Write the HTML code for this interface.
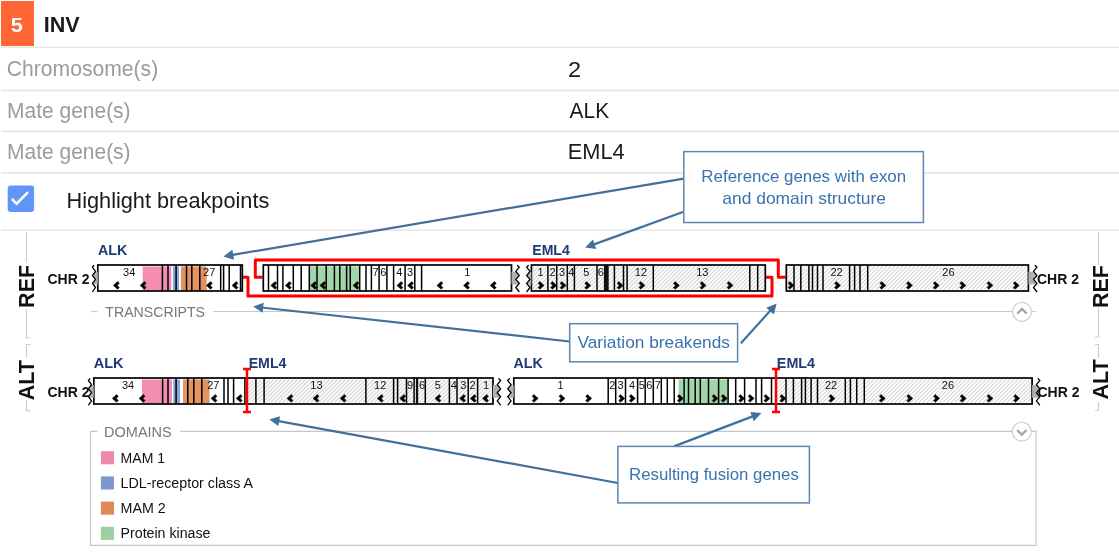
<!DOCTYPE html><html><head><meta charset="utf-8"><style>
html,body{margin:0;padding:0;background:#fff;width:1119px;height:553px;overflow:hidden;}
svg{position:absolute;left:0;top:0;will-change:transform;font-family:"Liberation Sans", sans-serif;}
</style></head><body>
<svg width="1119" height="553" viewBox="0 0 1119 553">
<defs><pattern id="hatch" patternUnits="userSpaceOnUse" width="2.83" height="2.83" patternTransform="rotate(45)"><rect width="2.83" height="2.83" fill="#fff"/><rect x="0" y="0" width="1.0" height="2.83" fill="#d0d0d0"/></pattern></defs>
<rect x="1" y="1" width="33" height="45" fill="#FF6633"/>
<text x="10.65" y="31.60" font-size="20.90" font-weight="bold" textLength="12.12" lengthAdjust="spacingAndGlyphs" fill="#fff">5</text>
<text x="43.80" y="31.60" font-size="22.20" font-weight="bold" textLength="35.95" lengthAdjust="spacingAndGlyphs" fill="#1a1a1a">INV</text>
<line x1="1" y1="47.3" x2="1119" y2="47.3" stroke="#e6e6e6" stroke-width="1.6"/>
<line x1="1" y1="90.4" x2="1119" y2="90.4" stroke="#e6e6e6" stroke-width="1.6"/>
<line x1="1" y1="131.4" x2="1119" y2="131.4" stroke="#e6e6e6" stroke-width="1.6"/>
<line x1="1" y1="172.9" x2="1119" y2="172.9" stroke="#e6e6e6" stroke-width="1.6"/>
<line x1="1" y1="230.2" x2="1119" y2="230.2" stroke="#e6e6e6" stroke-width="1.6"/>
<text x="6.84" y="76.30" font-size="22.40" textLength="151.39" lengthAdjust="spacingAndGlyphs" fill="#9b9b9b">Chromosome(s)</text>
<text x="7.02" y="117.80" font-size="22.40" textLength="123.57" lengthAdjust="spacingAndGlyphs" fill="#9b9b9b">Mate gene(s)</text>
<text x="7.02" y="158.90" font-size="22.40" textLength="123.57" lengthAdjust="spacingAndGlyphs" fill="#9b9b9b">Mate gene(s)</text>
<text x="568.12" y="76.50" font-size="21.50" textLength="13.08" lengthAdjust="spacingAndGlyphs" fill="#1a1a1a">2</text>
<text x="569.60" y="117.50" font-size="22.00" textLength="39.51" lengthAdjust="spacingAndGlyphs" fill="#1a1a1a">ALK</text>
<text x="567.76" y="158.50" font-size="22.00" textLength="56.95" lengthAdjust="spacingAndGlyphs" fill="#1a1a1a">EML4</text>
<rect x="7.7" y="185.4" width="26.4" height="26.7" rx="3" fill="#6196F8"/>
<polyline points="11.9,199 16.6,203.7 28,192.2" fill="none" stroke="#fff" stroke-width="2.5"/>
<text x="66.46" y="208.00" font-size="21.90" textLength="202.88" lengthAdjust="spacingAndGlyphs" fill="#1a1a1a">Highlight breakpoints</text>
<path d="M26.5,232 V262.6 M26.5,309 V338 H30.5" fill="none" stroke="#cfcfcf" stroke-width="1.2"/>
<path d="M30.5,344.5 H26.5 V357.5 M26.5,400 V410.7 H30.5" fill="none" stroke="#cfcfcf" stroke-width="1.2"/>
<path d="M1098.5,232 V265 M1098.5,307 V337 H1095" fill="none" stroke="#cfcfcf" stroke-width="1.2"/>
<path d="M1095,344.5 H1098.5 V358 M1098.5,402 V410.5 H1095" fill="none" stroke="#cfcfcf" stroke-width="1.2"/>
<text transform="translate(34.4,286.4) rotate(-90)" text-anchor="middle" font-size="21.5" font-weight="bold" fill="#111">REF</text>
<text transform="translate(34.4,380.2) rotate(-90)" text-anchor="middle" font-size="21.5" font-weight="bold" fill="#111">ALT</text>
<text transform="translate(1107.7,286.5) rotate(-90)" text-anchor="middle" font-size="21.5" font-weight="bold" fill="#111">REF</text>
<text transform="translate(1107.5,379.5) rotate(-90)" text-anchor="middle" font-size="21.5" font-weight="bold" fill="#111">ALT</text>
<text x="47.5" y="283.5" font-size="14" font-weight="bold" fill="#111">CHR 2</text>
<text x="1037" y="284.4" font-size="14" font-weight="bold" fill="#111">CHR 2</text>
<text x="47.5" y="396.6" font-size="14" font-weight="bold" fill="#111">CHR 2</text>
<text x="1037.5" y="397.2" font-size="14" font-weight="bold" fill="#111">CHR 2</text>
<text x="97.94" y="254.80" font-size="14.20" font-weight="bold" textLength="29.40" lengthAdjust="spacingAndGlyphs" fill="#1F3A78">ALK</text>
<text x="532.29" y="254.50" font-size="14.20" font-weight="bold" textLength="37.51" lengthAdjust="spacingAndGlyphs" fill="#1F3A78">EML4</text>
<text x="93.74" y="367.70" font-size="14.20" font-weight="bold" textLength="29.91" lengthAdjust="spacingAndGlyphs" fill="#1F3A78">ALK</text>
<text x="248.68" y="367.70" font-size="14.20" font-weight="bold" textLength="37.72" lengthAdjust="spacingAndGlyphs" fill="#1F3A78">EML4</text>
<text x="513.44" y="367.70" font-size="14.20" font-weight="bold" textLength="29.30" lengthAdjust="spacingAndGlyphs" fill="#1F3A78">ALK</text>
<text x="776.87" y="367.70" font-size="14.20" font-weight="bold" textLength="38.23" lengthAdjust="spacingAndGlyphs" fill="#1F3A78">EML4</text>
<path d="M243,277.2 H248 V296 H772 V277.2 H765" fill="none" stroke="#FF0000" stroke-width="3" stroke-linejoin="round"/>
<path d="M262.5,277.2 H255.3 V260 H778.3 V277.2 H785.5" fill="none" stroke="#FF0000" stroke-width="3" stroke-linejoin="round"/>
<rect x="97.8" y="265.0" width="144.5" height="26.0" fill="#fff"/>
<rect x="142.7" y="266.5" width="28.6" height="24.0" fill="#F38EB1"/>
<rect x="172.9" y="266.5" width="6.1" height="24.0" fill="#8AA5DB"/>
<rect x="180.9" y="266.5" width="25.8" height="24.0" fill="#E3935F"/>
<line x1="162.4" y1="265.0" x2="162.4" y2="291.0" stroke="#000" stroke-width="1.5"/>
<line x1="168.0" y1="265.0" x2="168.0" y2="291.0" stroke="#000" stroke-width="1.5"/>
<line x1="176.1" y1="265.0" x2="176.1" y2="291.0" stroke="#000" stroke-width="1.5"/>
<line x1="186.5" y1="265.0" x2="186.5" y2="291.0" stroke="#000" stroke-width="1.5"/>
<line x1="191.8" y1="265.0" x2="191.8" y2="291.0" stroke="#000" stroke-width="1.5"/>
<line x1="199.8" y1="265.0" x2="199.8" y2="291.0" stroke="#000" stroke-width="1.5"/>
<line x1="220.7" y1="265.0" x2="220.7" y2="291.0" stroke="#000" stroke-width="1.5"/>
<line x1="223.6" y1="265.0" x2="223.6" y2="291.0" stroke="#000" stroke-width="1.5"/>
<line x1="229.2" y1="265.0" x2="229.2" y2="291.0" stroke="#000" stroke-width="1.5"/>
<line x1="240.5" y1="265.0" x2="240.5" y2="291.0" stroke="#000" stroke-width="1.5"/>
<rect x="97.8" y="265.0" width="144.5" height="26.0" fill="none" stroke="#000" stroke-width="1.7"/>
<text x="129.2" y="275.9" text-anchor="middle" font-size="11" fill="#111">34</text>
<text x="209.2" y="275.9" text-anchor="middle" font-size="11" fill="#111">27</text>
<polygon points="119.30,283.20 117.60,281.50 113.30,285.40 117.60,289.30 119.30,287.60 117.30,285.40" fill="#000" stroke="#000" stroke-width="0.5" stroke-linejoin="round"/>
<polygon points="146.10,283.20 144.40,281.50 140.10,285.40 144.40,289.30 146.10,287.60 144.10,285.40" fill="#000" stroke="#000" stroke-width="0.5" stroke-linejoin="round"/>
<polygon points="212.30,283.20 210.60,281.50 206.30,285.40 210.60,289.30 212.30,287.60 210.30,285.40" fill="#000" stroke="#000" stroke-width="0.5" stroke-linejoin="round"/>
<polygon points="238.00,283.20 236.30,281.50 232.00,285.40 236.30,289.30 238.00,287.60 236.00,285.40" fill="#000" stroke="#000" stroke-width="0.5" stroke-linejoin="round"/>
<rect x="263.3" y="265.0" width="248.2" height="26.0" fill="#fff"/>
<rect x="309.5" y="266.5" width="49.3" height="24.0" fill="#A1D5AA"/>
<line x1="268.5" y1="265.0" x2="268.5" y2="291.0" stroke="#000" stroke-width="1.5"/>
<line x1="277.5" y1="265.0" x2="277.5" y2="291.0" stroke="#000" stroke-width="1.5"/>
<line x1="282.9" y1="265.0" x2="282.9" y2="291.0" stroke="#000" stroke-width="1.5"/>
<line x1="293.3" y1="265.0" x2="293.3" y2="291.0" stroke="#000" stroke-width="1.5"/>
<line x1="301.2" y1="265.0" x2="301.2" y2="291.0" stroke="#000" stroke-width="1.5"/>
<line x1="309.3" y1="265.0" x2="309.3" y2="291.0" stroke="#000" stroke-width="1.5"/>
<line x1="317.0" y1="265.0" x2="317.0" y2="291.0" stroke="#000" stroke-width="1.5"/>
<line x1="326.2" y1="265.0" x2="326.2" y2="291.0" stroke="#000" stroke-width="1.5"/>
<line x1="334.4" y1="265.0" x2="334.4" y2="291.0" stroke="#000" stroke-width="1.5"/>
<line x1="339.8" y1="265.0" x2="339.8" y2="291.0" stroke="#000" stroke-width="1.5"/>
<line x1="346.6" y1="265.0" x2="346.6" y2="291.0" stroke="#000" stroke-width="1.5"/>
<line x1="350.2" y1="265.0" x2="350.2" y2="291.0" stroke="#000" stroke-width="1.5"/>
<line x1="359.7" y1="265.0" x2="359.7" y2="291.0" stroke="#000" stroke-width="1.5"/>
<line x1="366.0" y1="265.0" x2="366.0" y2="291.0" stroke="#000" stroke-width="1.5"/>
<line x1="371.4" y1="265.0" x2="371.4" y2="291.0" stroke="#000" stroke-width="1.5"/>
<line x1="379.1" y1="265.0" x2="379.1" y2="291.0" stroke="#000" stroke-width="1.5"/>
<line x1="386.9" y1="265.0" x2="386.9" y2="291.0" stroke="#000" stroke-width="1.5"/>
<line x1="393.6" y1="265.0" x2="393.6" y2="291.0" stroke="#000" stroke-width="1.5"/>
<line x1="405.1" y1="265.0" x2="405.1" y2="291.0" stroke="#000" stroke-width="1.5"/>
<line x1="414.8" y1="265.0" x2="414.8" y2="291.0" stroke="#000" stroke-width="1.5"/>
<line x1="421.6" y1="265.0" x2="421.6" y2="291.0" stroke="#000" stroke-width="1.5"/>
<rect x="263.3" y="265.0" width="248.2" height="26.0" fill="none" stroke="#000" stroke-width="1.7"/>
<text x="375.5" y="275.9" text-anchor="middle" font-size="11" fill="#111">7</text>
<text x="383.2" y="275.9" text-anchor="middle" font-size="11" fill="#111">6</text>
<text x="399.2" y="275.9" text-anchor="middle" font-size="11" fill="#111">4</text>
<text x="410.0" y="275.9" text-anchor="middle" font-size="11" fill="#111">3</text>
<text x="467.2" y="275.9" text-anchor="middle" font-size="11" fill="#111">1</text>
<polygon points="276.80,283.20 275.10,281.50 270.80,285.40 275.10,289.30 276.80,287.60 274.80,285.40" fill="#000" stroke="#000" stroke-width="0.5" stroke-linejoin="round"/>
<polygon points="291.30,283.20 289.60,281.50 285.30,285.40 289.60,289.30 291.30,287.60 289.30,285.40" fill="#000" stroke="#000" stroke-width="0.5" stroke-linejoin="round"/>
<polygon points="316.70,283.20 315.00,281.50 310.70,285.40 315.00,289.30 316.70,287.60 314.70,285.40" fill="#000" stroke="#000" stroke-width="0.5" stroke-linejoin="round"/>
<polygon points="325.80,283.20 324.10,281.50 319.80,285.40 324.10,289.30 325.80,287.60 323.80,285.40" fill="#000" stroke="#000" stroke-width="0.5" stroke-linejoin="round"/>
<polygon points="359.00,283.20 357.30,281.50 353.00,285.40 357.30,289.30 359.00,287.60 357.00,285.40" fill="#000" stroke="#000" stroke-width="0.5" stroke-linejoin="round"/>
<polygon points="402.90,283.20 401.20,281.50 396.90,285.40 401.20,289.30 402.90,287.60 400.90,285.40" fill="#000" stroke="#000" stroke-width="0.5" stroke-linejoin="round"/>
<polygon points="413.50,283.20 411.80,281.50 407.50,285.40 411.80,289.30 413.50,287.60 411.50,285.40" fill="#000" stroke="#000" stroke-width="0.5" stroke-linejoin="round"/>
<polygon points="442.90,283.20 441.20,281.50 436.90,285.40 441.20,289.30 442.90,287.60 440.90,285.40" fill="#000" stroke="#000" stroke-width="0.5" stroke-linejoin="round"/>
<polygon points="469.50,283.20 467.80,281.50 463.50,285.40 467.80,289.30 469.50,287.60 467.50,285.40" fill="#000" stroke="#000" stroke-width="0.5" stroke-linejoin="round"/>
<polygon points="496.20,283.20 494.50,281.50 490.20,285.40 494.50,289.30 496.20,287.60 494.20,285.40" fill="#000" stroke="#000" stroke-width="0.5" stroke-linejoin="round"/>
<rect x="531.4" y="265.0" width="233.9" height="26.0" fill="#fff"/>
<rect x="531.4" y="266.5" width="233.9" height="23.0" fill="url(#hatch)"/>
<line x1="547.9" y1="265.0" x2="547.9" y2="291.0" stroke="#000" stroke-width="1.5"/>
<line x1="556.7" y1="265.0" x2="556.7" y2="291.0" stroke="#000" stroke-width="1.5"/>
<line x1="567.3" y1="265.0" x2="567.3" y2="291.0" stroke="#000" stroke-width="1.5"/>
<line x1="574.4" y1="265.0" x2="574.4" y2="291.0" stroke="#000" stroke-width="1.5"/>
<line x1="597.0" y1="265.0" x2="597.0" y2="291.0" stroke="#000" stroke-width="1.5"/>
<line x1="614.4" y1="265.0" x2="614.4" y2="291.0" stroke="#000" stroke-width="1.5"/>
<line x1="623.5" y1="265.0" x2="623.5" y2="291.0" stroke="#000" stroke-width="1.5"/>
<line x1="627.1" y1="265.0" x2="627.1" y2="291.0" stroke="#000" stroke-width="1.5"/>
<line x1="653.3" y1="265.0" x2="653.3" y2="291.0" stroke="#000" stroke-width="1.5"/>
<line x1="749.8" y1="265.0" x2="749.8" y2="291.0" stroke="#000" stroke-width="1.5"/>
<line x1="757.7" y1="265.0" x2="757.7" y2="291.0" stroke="#000" stroke-width="1.5"/>
<rect x="603.9" y="265.0" width="4.8" height="26.0" fill="#111"/>
<rect x="531.4" y="265.0" width="233.9" height="26.0" fill="none" stroke="#000" stroke-width="1.7"/>
<text x="540.5" y="275.9" text-anchor="middle" font-size="11" fill="#111">1</text>
<text x="552.6" y="275.9" text-anchor="middle" font-size="11" fill="#111">2</text>
<text x="562.0" y="275.9" text-anchor="middle" font-size="11" fill="#111">3</text>
<text x="571.3" y="275.9" text-anchor="middle" font-size="11" fill="#111">4</text>
<text x="586.4" y="275.9" text-anchor="middle" font-size="11" fill="#111">5</text>
<text x="600.7" y="275.9" text-anchor="middle" font-size="11" fill="#111">6</text>
<text x="640.9" y="275.9" text-anchor="middle" font-size="11" fill="#111">12</text>
<text x="702.3" y="275.9" text-anchor="middle" font-size="11" fill="#111">13</text>
<polygon points="538.10,283.20 539.80,281.50 544.10,285.40 539.80,289.30 538.10,287.60 540.10,285.40" fill="#000" stroke="#000" stroke-width="0.5" stroke-linejoin="round"/>
<polygon points="550.70,283.20 552.40,281.50 556.70,285.40 552.40,289.30 550.70,287.60 552.70,285.40" fill="#000" stroke="#000" stroke-width="0.5" stroke-linejoin="round"/>
<polygon points="560.10,283.20 561.80,281.50 566.10,285.40 561.80,289.30 560.10,287.60 562.10,285.40" fill="#000" stroke="#000" stroke-width="0.5" stroke-linejoin="round"/>
<polygon points="584.80,283.20 586.50,281.50 590.80,285.40 586.50,289.30 584.80,287.60 586.80,285.40" fill="#000" stroke="#000" stroke-width="0.5" stroke-linejoin="round"/>
<polygon points="617.10,283.20 618.80,281.50 623.10,285.40 618.80,289.30 617.10,287.60 619.10,285.40" fill="#000" stroke="#000" stroke-width="0.5" stroke-linejoin="round"/>
<polygon points="639.00,283.20 640.70,281.50 645.00,285.40 640.70,289.30 639.00,287.60 641.00,285.40" fill="#000" stroke="#000" stroke-width="0.5" stroke-linejoin="round"/>
<polygon points="673.40,283.20 675.10,281.50 679.40,285.40 675.10,289.30 673.40,287.60 675.40,285.40" fill="#000" stroke="#000" stroke-width="0.5" stroke-linejoin="round"/>
<polygon points="700.10,283.20 701.80,281.50 706.10,285.40 701.80,289.30 700.10,287.60 702.10,285.40" fill="#000" stroke="#000" stroke-width="0.5" stroke-linejoin="round"/>
<polygon points="727.10,283.20 728.80,281.50 733.10,285.40 728.80,289.30 727.10,287.60 729.10,285.40" fill="#000" stroke="#000" stroke-width="0.5" stroke-linejoin="round"/>
<rect x="786.3" y="265.0" width="242.1" height="26.0" fill="#fff"/>
<rect x="786.3" y="266.5" width="242.1" height="23.0" fill="url(#hatch)"/>
<line x1="794.0" y1="265.0" x2="794.0" y2="291.0" stroke="#000" stroke-width="1.5"/>
<line x1="800.8" y1="265.0" x2="800.8" y2="291.0" stroke="#000" stroke-width="1.5"/>
<line x1="808.9" y1="265.0" x2="808.9" y2="291.0" stroke="#000" stroke-width="1.5"/>
<line x1="812.5" y1="265.0" x2="812.5" y2="291.0" stroke="#000" stroke-width="1.5"/>
<line x1="817.5" y1="265.0" x2="817.5" y2="291.0" stroke="#000" stroke-width="1.5"/>
<line x1="823.0" y1="265.0" x2="823.0" y2="291.0" stroke="#000" stroke-width="1.5"/>
<line x1="849.6" y1="265.0" x2="849.6" y2="291.0" stroke="#000" stroke-width="1.5"/>
<line x1="854.6" y1="265.0" x2="854.6" y2="291.0" stroke="#000" stroke-width="1.5"/>
<line x1="860.0" y1="265.0" x2="860.0" y2="291.0" stroke="#000" stroke-width="1.5"/>
<line x1="867.7" y1="265.0" x2="867.7" y2="291.0" stroke="#000" stroke-width="1.5"/>
<rect x="786.3" y="265.0" width="242.1" height="26.0" fill="none" stroke="#000" stroke-width="1.7"/>
<text x="836.5" y="275.9" text-anchor="middle" font-size="11" fill="#111">22</text>
<text x="948.4" y="275.9" text-anchor="middle" font-size="11" fill="#111">26</text>
<polygon points="788.10,283.20 789.80,281.50 794.10,285.40 789.80,289.30 788.10,287.60 790.10,285.40" fill="#000" stroke="#000" stroke-width="0.5" stroke-linejoin="round"/>
<polygon points="834.60,283.20 836.30,281.50 840.60,285.40 836.30,289.30 834.60,287.60 836.60,285.40" fill="#000" stroke="#000" stroke-width="0.5" stroke-linejoin="round"/>
<polygon points="879.90,283.20 881.60,281.50 885.90,285.40 881.60,289.30 879.90,287.60 881.90,285.40" fill="#000" stroke="#000" stroke-width="0.5" stroke-linejoin="round"/>
<polygon points="906.50,283.20 908.20,281.50 912.50,285.40 908.20,289.30 906.50,287.60 908.50,285.40" fill="#000" stroke="#000" stroke-width="0.5" stroke-linejoin="round"/>
<polygon points="933.20,283.20 934.90,281.50 939.20,285.40 934.90,289.30 933.20,287.60 935.20,285.40" fill="#000" stroke="#000" stroke-width="0.5" stroke-linejoin="round"/>
<polygon points="959.90,283.20 961.60,281.50 965.90,285.40 961.60,289.30 959.90,287.60 961.90,285.40" fill="#000" stroke="#000" stroke-width="0.5" stroke-linejoin="round"/>
<polygon points="987.00,283.20 988.70,281.50 993.00,285.40 988.70,289.30 987.00,287.60 989.00,285.40" fill="#000" stroke="#000" stroke-width="0.5" stroke-linejoin="round"/>
<polygon points="1013.20,283.20 1014.90,281.50 1019.20,285.40 1014.90,289.30 1013.20,287.60 1015.20,285.40" fill="#000" stroke="#000" stroke-width="0.5" stroke-linejoin="round"/>
<rect x="93.8" y="378.0" width="399.2" height="26.0" fill="#fff"/>
<rect x="245.5" y="379.5" width="247.5" height="23.0" fill="url(#hatch)"/>
<rect x="142.0" y="379.5" width="30.0" height="24.0" fill="#F38EB1"/>
<rect x="173.3" y="379.5" width="6.8" height="24.0" fill="#8AA5DB"/>
<rect x="183.0" y="379.5" width="26.5" height="24.0" fill="#E3935F"/>
<line x1="162.6" y1="378.0" x2="162.6" y2="404.0" stroke="#000" stroke-width="1.5"/>
<line x1="168.0" y1="378.0" x2="168.0" y2="404.0" stroke="#000" stroke-width="1.5"/>
<line x1="176.1" y1="378.0" x2="176.1" y2="404.0" stroke="#000" stroke-width="1.5"/>
<line x1="187.8" y1="378.0" x2="187.8" y2="404.0" stroke="#000" stroke-width="1.5"/>
<line x1="193.8" y1="378.0" x2="193.8" y2="404.0" stroke="#000" stroke-width="1.5"/>
<line x1="201.8" y1="378.0" x2="201.8" y2="404.0" stroke="#000" stroke-width="1.5"/>
<line x1="224.0" y1="378.0" x2="224.0" y2="404.0" stroke="#000" stroke-width="1.5"/>
<line x1="228.0" y1="378.0" x2="228.0" y2="404.0" stroke="#000" stroke-width="1.5"/>
<line x1="233.6" y1="378.0" x2="233.6" y2="404.0" stroke="#000" stroke-width="1.5"/>
<line x1="244.9" y1="378.0" x2="244.9" y2="404.0" stroke="#000" stroke-width="1.5"/>
<line x1="255.9" y1="378.0" x2="255.9" y2="404.0" stroke="#000" stroke-width="1.5"/>
<line x1="264.1" y1="378.0" x2="264.1" y2="404.0" stroke="#000" stroke-width="1.5"/>
<line x1="365.9" y1="378.0" x2="365.9" y2="404.0" stroke="#000" stroke-width="1.5"/>
<line x1="393.6" y1="378.0" x2="393.6" y2="404.0" stroke="#000" stroke-width="1.5"/>
<line x1="397.6" y1="378.0" x2="397.6" y2="404.0" stroke="#000" stroke-width="1.5"/>
<line x1="406.5" y1="378.0" x2="406.5" y2="404.0" stroke="#000" stroke-width="1.5"/>
<line x1="414.1" y1="378.0" x2="414.1" y2="404.0" stroke="#000" stroke-width="1.5"/>
<line x1="425.3" y1="378.0" x2="425.3" y2="404.0" stroke="#000" stroke-width="1.5"/>
<line x1="449.4" y1="378.0" x2="449.4" y2="404.0" stroke="#000" stroke-width="1.5"/>
<line x1="457.0" y1="378.0" x2="457.0" y2="404.0" stroke="#000" stroke-width="1.5"/>
<line x1="468.2" y1="378.0" x2="468.2" y2="404.0" stroke="#000" stroke-width="1.5"/>
<line x1="477.6" y1="378.0" x2="477.6" y2="404.0" stroke="#000" stroke-width="1.5"/>
<rect x="415.9" y="378.0" width="2.3" height="26.0" fill="#111"/>
<rect x="93.8" y="378.0" width="399.2" height="26.0" fill="none" stroke="#000" stroke-width="1.7"/>
<text x="128.1" y="388.9" text-anchor="middle" font-size="11" fill="#111">34</text>
<text x="213.3" y="388.9" text-anchor="middle" font-size="11" fill="#111">27</text>
<text x="316.4" y="388.9" text-anchor="middle" font-size="11" fill="#111">13</text>
<text x="380.2" y="388.9" text-anchor="middle" font-size="11" fill="#111">12</text>
<text x="410.0" y="388.9" text-anchor="middle" font-size="11" fill="#111">9</text>
<text x="422.0" y="388.9" text-anchor="middle" font-size="11" fill="#111">6</text>
<text x="437.9" y="388.9" text-anchor="middle" font-size="11" fill="#111">5</text>
<text x="453.8" y="388.9" text-anchor="middle" font-size="11" fill="#111">4</text>
<text x="463.2" y="388.9" text-anchor="middle" font-size="11" fill="#111">3</text>
<text x="472.6" y="388.9" text-anchor="middle" font-size="11" fill="#111">2</text>
<text x="486.0" y="388.9" text-anchor="middle" font-size="11" fill="#111">1</text>
<polygon points="118.30,396.20 116.60,394.50 112.30,398.40 116.60,402.30 118.30,400.60 116.30,398.40" fill="#000" stroke="#000" stroke-width="0.5" stroke-linejoin="round"/>
<polygon points="145.00,396.20 143.30,394.50 139.00,398.40 143.30,402.30 145.00,400.60 143.00,398.40" fill="#000" stroke="#000" stroke-width="0.5" stroke-linejoin="round"/>
<polygon points="217.00,396.20 215.30,394.50 211.00,398.40 215.30,402.30 217.00,400.60 215.00,398.40" fill="#000" stroke="#000" stroke-width="0.5" stroke-linejoin="round"/>
<polygon points="242.20,396.20 240.50,394.50 236.20,398.40 240.50,402.30 242.20,400.60 240.20,398.40" fill="#000" stroke="#000" stroke-width="0.5" stroke-linejoin="round"/>
<polygon points="293.00,396.20 291.30,394.50 287.00,398.40 291.30,402.30 293.00,400.60 291.00,398.40" fill="#000" stroke="#000" stroke-width="0.5" stroke-linejoin="round"/>
<polygon points="319.00,396.20 317.30,394.50 313.00,398.40 317.30,402.30 319.00,400.60 317.00,398.40" fill="#000" stroke="#000" stroke-width="0.5" stroke-linejoin="round"/>
<polygon points="346.10,396.20 344.40,394.50 340.10,398.40 344.40,402.30 346.10,400.60 344.10,398.40" fill="#000" stroke="#000" stroke-width="0.5" stroke-linejoin="round"/>
<polygon points="383.30,396.20 381.60,394.50 377.30,398.40 381.60,402.30 383.30,400.60 381.30,398.40" fill="#000" stroke="#000" stroke-width="0.5" stroke-linejoin="round"/>
<polygon points="405.70,396.20 404.00,394.50 399.70,398.40 404.00,402.30 405.70,400.60 403.70,398.40" fill="#000" stroke="#000" stroke-width="0.5" stroke-linejoin="round"/>
<polygon points="440.90,396.20 439.20,394.50 434.90,398.40 439.20,402.30 440.90,400.60 438.90,398.40" fill="#000" stroke="#000" stroke-width="0.5" stroke-linejoin="round"/>
<polygon points="465.60,396.20 463.90,394.50 459.60,398.40 463.90,402.30 465.60,400.60 463.60,398.40" fill="#000" stroke="#000" stroke-width="0.5" stroke-linejoin="round"/>
<polygon points="476.20,396.20 474.50,394.50 470.20,398.40 474.50,402.30 476.20,400.60 474.20,398.40" fill="#000" stroke="#000" stroke-width="0.5" stroke-linejoin="round"/>
<polygon points="488.50,396.20 486.80,394.50 482.50,398.40 486.80,402.30 488.50,400.60 486.50,398.40" fill="#000" stroke="#000" stroke-width="0.5" stroke-linejoin="round"/>
<rect x="513.8" y="378.0" width="518.3" height="26.0" fill="#fff"/>
<rect x="776.0" y="379.5" width="256.1" height="23.0" fill="url(#hatch)"/>
<rect x="678.6" y="379.5" width="49.4" height="24.0" fill="#A1D5AA"/>
<line x1="608.2" y1="378.0" x2="608.2" y2="404.0" stroke="#000" stroke-width="1.5"/>
<line x1="615.7" y1="378.0" x2="615.7" y2="404.0" stroke="#000" stroke-width="1.5"/>
<line x1="625.5" y1="378.0" x2="625.5" y2="404.0" stroke="#000" stroke-width="1.5"/>
<line x1="637.6" y1="378.0" x2="637.6" y2="404.0" stroke="#000" stroke-width="1.5"/>
<line x1="645.2" y1="378.0" x2="645.2" y2="404.0" stroke="#000" stroke-width="1.5"/>
<line x1="653.3" y1="378.0" x2="653.3" y2="404.0" stroke="#000" stroke-width="1.5"/>
<line x1="661.3" y1="378.0" x2="661.3" y2="404.0" stroke="#000" stroke-width="1.5"/>
<line x1="667.3" y1="378.0" x2="667.3" y2="404.0" stroke="#000" stroke-width="1.5"/>
<line x1="674.2" y1="378.0" x2="674.2" y2="404.0" stroke="#000" stroke-width="1.5"/>
<line x1="684.1" y1="378.0" x2="684.1" y2="404.0" stroke="#000" stroke-width="1.5"/>
<line x1="688.5" y1="378.0" x2="688.5" y2="404.0" stroke="#000" stroke-width="1.5"/>
<line x1="695.2" y1="378.0" x2="695.2" y2="404.0" stroke="#000" stroke-width="1.5"/>
<line x1="700.3" y1="378.0" x2="700.3" y2="404.0" stroke="#000" stroke-width="1.5"/>
<line x1="708.5" y1="378.0" x2="708.5" y2="404.0" stroke="#000" stroke-width="1.5"/>
<line x1="718.6" y1="378.0" x2="718.6" y2="404.0" stroke="#000" stroke-width="1.5"/>
<line x1="728.1" y1="378.0" x2="728.1" y2="404.0" stroke="#000" stroke-width="1.5"/>
<line x1="735.7" y1="378.0" x2="735.7" y2="404.0" stroke="#000" stroke-width="1.5"/>
<line x1="744.6" y1="378.0" x2="744.6" y2="404.0" stroke="#000" stroke-width="1.5"/>
<line x1="756.0" y1="378.0" x2="756.0" y2="404.0" stroke="#000" stroke-width="1.5"/>
<line x1="761.6" y1="378.0" x2="761.6" y2="404.0" stroke="#000" stroke-width="1.5"/>
<line x1="771.5" y1="378.0" x2="771.5" y2="404.0" stroke="#000" stroke-width="1.5"/>
<line x1="786.0" y1="378.0" x2="786.0" y2="404.0" stroke="#000" stroke-width="1.5"/>
<line x1="793.4" y1="378.0" x2="793.4" y2="404.0" stroke="#000" stroke-width="1.5"/>
<line x1="801.6" y1="378.0" x2="801.6" y2="404.0" stroke="#000" stroke-width="1.5"/>
<line x1="805.4" y1="378.0" x2="805.4" y2="404.0" stroke="#000" stroke-width="1.5"/>
<line x1="811.1" y1="378.0" x2="811.1" y2="404.0" stroke="#000" stroke-width="1.5"/>
<line x1="817.5" y1="378.0" x2="817.5" y2="404.0" stroke="#000" stroke-width="1.5"/>
<line x1="845.3" y1="378.0" x2="845.3" y2="404.0" stroke="#000" stroke-width="1.5"/>
<line x1="850.4" y1="378.0" x2="850.4" y2="404.0" stroke="#000" stroke-width="1.5"/>
<line x1="856.7" y1="378.0" x2="856.7" y2="404.0" stroke="#000" stroke-width="1.5"/>
<line x1="864.3" y1="378.0" x2="864.3" y2="404.0" stroke="#000" stroke-width="1.5"/>
<rect x="513.8" y="378.0" width="518.3" height="26.0" fill="none" stroke="#000" stroke-width="1.7"/>
<text x="560.5" y="388.9" text-anchor="middle" font-size="11" fill="#111">1</text>
<text x="612.4" y="388.9" text-anchor="middle" font-size="11" fill="#111">2</text>
<text x="620.5" y="388.9" text-anchor="middle" font-size="11" fill="#111">3</text>
<text x="632.0" y="388.9" text-anchor="middle" font-size="11" fill="#111">4</text>
<text x="641.8" y="388.9" text-anchor="middle" font-size="11" fill="#111">5</text>
<text x="649.4" y="388.9" text-anchor="middle" font-size="11" fill="#111">6</text>
<text x="657.7" y="388.9" text-anchor="middle" font-size="11" fill="#111">7</text>
<text x="831.1" y="388.9" text-anchor="middle" font-size="11" fill="#111">22</text>
<text x="947.9" y="388.9" text-anchor="middle" font-size="11" fill="#111">26</text>
<polygon points="532.20,396.20 533.90,394.50 538.20,398.40 533.90,402.30 532.20,400.60 534.20,398.40" fill="#000" stroke="#000" stroke-width="0.5" stroke-linejoin="round"/>
<polygon points="559.00,396.20 560.70,394.50 565.00,398.40 560.70,402.30 559.00,400.60 561.00,398.40" fill="#000" stroke="#000" stroke-width="0.5" stroke-linejoin="round"/>
<polygon points="585.70,396.20 587.40,394.50 591.70,398.40 587.40,402.30 585.70,400.60 587.70,398.40" fill="#000" stroke="#000" stroke-width="0.5" stroke-linejoin="round"/>
<polygon points="618.80,396.20 620.50,394.50 624.80,398.40 620.50,402.30 618.80,400.60 620.80,398.40" fill="#000" stroke="#000" stroke-width="0.5" stroke-linejoin="round"/>
<polygon points="629.30,396.20 631.00,394.50 635.30,398.40 631.00,402.30 629.30,400.60 631.30,398.40" fill="#000" stroke="#000" stroke-width="0.5" stroke-linejoin="round"/>
<polygon points="677.40,396.20 679.10,394.50 683.40,398.40 679.10,402.30 677.40,400.60 679.40,398.40" fill="#000" stroke="#000" stroke-width="0.5" stroke-linejoin="round"/>
<polygon points="712.10,396.20 713.80,394.50 718.10,398.40 713.80,402.30 712.10,400.60 714.10,398.40" fill="#000" stroke="#000" stroke-width="0.5" stroke-linejoin="round"/>
<polygon points="721.30,396.20 723.00,394.50 727.30,398.40 723.00,402.30 721.30,400.60 723.30,398.40" fill="#000" stroke="#000" stroke-width="0.5" stroke-linejoin="round"/>
<polygon points="738.70,396.20 740.40,394.50 744.70,398.40 740.40,402.30 738.70,400.60 740.70,398.40" fill="#000" stroke="#000" stroke-width="0.5" stroke-linejoin="round"/>
<polygon points="748.20,396.20 749.90,394.50 754.20,398.40 749.90,402.30 748.20,400.60 750.20,398.40" fill="#000" stroke="#000" stroke-width="0.5" stroke-linejoin="round"/>
<polygon points="764.00,396.20 765.70,394.50 770.00,398.40 765.70,402.30 764.00,400.60 766.00,398.40" fill="#000" stroke="#000" stroke-width="0.5" stroke-linejoin="round"/>
<polygon points="779.90,396.20 781.60,394.50 785.90,398.40 781.60,402.30 779.90,400.60 781.90,398.40" fill="#000" stroke="#000" stroke-width="0.5" stroke-linejoin="round"/>
<polygon points="829.00,396.20 830.70,394.50 835.00,398.40 830.70,402.30 829.00,400.60 831.00,398.40" fill="#000" stroke="#000" stroke-width="0.5" stroke-linejoin="round"/>
<polygon points="879.30,396.20 881.00,394.50 885.30,398.40 881.00,402.30 879.30,400.60 881.30,398.40" fill="#000" stroke="#000" stroke-width="0.5" stroke-linejoin="round"/>
<polygon points="906.80,396.20 908.50,394.50 912.80,398.40 908.50,402.30 906.80,400.60 908.80,398.40" fill="#000" stroke="#000" stroke-width="0.5" stroke-linejoin="round"/>
<polygon points="933.60,396.20 935.30,394.50 939.60,398.40 935.30,402.30 933.60,400.60 935.60,398.40" fill="#000" stroke="#000" stroke-width="0.5" stroke-linejoin="round"/>
<polygon points="960.20,396.20 961.90,394.50 966.20,398.40 961.90,402.30 960.20,400.60 962.20,398.40" fill="#000" stroke="#000" stroke-width="0.5" stroke-linejoin="round"/>
<polygon points="987.00,396.20 988.70,394.50 993.00,398.40 988.70,402.30 987.00,400.60 989.00,398.40" fill="#000" stroke="#000" stroke-width="0.5" stroke-linejoin="round"/>
<polygon points="1013.70,396.20 1015.40,394.50 1019.70,398.40 1015.40,402.30 1013.70,400.60 1015.70,398.40" fill="#000" stroke="#000" stroke-width="0.5" stroke-linejoin="round"/>
<path d="M247.0,369 V412 M243.0,369 H251.0 M243.0,412 H251.0" fill="none" stroke="#FF0000" stroke-width="2.5"/>
<path d="M776.0,369 V412 M772.0,369 H780.0 M772.0,412 H780.0" fill="none" stroke="#FF0000" stroke-width="2.5"/>
<polygon points="97.8,271.7 95.5,271.7 92.4,275.6 95.5,279.4 92.4,283.4 92.4,284.5 97.8,284.5" fill="#b0b0b0"/><polyline points="93.8,265.5 92.4,267.2 95.5,271.3 92.4,275.6 95.5,279.4 92.4,283.4 95.5,287.5 92.7,291.5" fill="none" stroke="#000" stroke-width="1.3" stroke-linejoin="round" stroke-linecap="round"/>
<polygon points="511.5,271.7 515.8,271.7 519.3,275.6 515.8,279.4 519.3,283.4 519.3,284.5 511.5,284.5" fill="#b0b0b0"/><polyline points="517.5,265.5 519.3,267.2 515.8,271.3 519.3,275.6 515.8,279.4 519.3,283.4 515.8,287.5 519.0,291.5" fill="none" stroke="#000" stroke-width="1.3" stroke-linejoin="round" stroke-linecap="round"/>
<polygon points="531.4,271.7 530.0,271.7 526.6,275.6 530.0,279.4 526.6,283.4 526.6,284.5 531.4,284.5" fill="#b0b0b0"/><polyline points="528.3,265.5 526.6,267.2 530.0,271.3 526.6,275.6 530.0,279.4 526.6,283.4 530.0,287.5 526.9,291.5" fill="none" stroke="#000" stroke-width="1.3" stroke-linejoin="round" stroke-linecap="round"/>
<polygon points="1028.4,271.7 1033.5,271.7 1037.0,275.6 1033.5,279.4 1037.0,283.4 1037.0,284.5 1028.4,284.5" fill="#b0b0b0"/><polyline points="1035.2,265.5 1037.0,267.2 1033.5,271.3 1037.0,275.6 1033.5,279.4 1037.0,283.4 1033.5,287.5 1036.7,291.5" fill="none" stroke="#000" stroke-width="1.3" stroke-linejoin="round" stroke-linecap="round"/>
<polygon points="93.8,385.0 91.5,385.0 88.4,388.9 91.5,392.7 88.4,396.7 88.4,397.8 93.8,397.8" fill="#b0b0b0"/><polyline points="89.8,378.8 88.4,380.5 91.5,384.6 88.4,388.9 91.5,392.7 88.4,396.7 91.5,400.8 88.7,404.8" fill="none" stroke="#000" stroke-width="1.3" stroke-linejoin="round" stroke-linecap="round"/>
<polygon points="493.0,385.0 497.2,385.0 500.7,388.9 497.2,392.7 500.7,396.7 500.7,397.8 493.0,397.8" fill="#b0b0b0"/><polyline points="498.9,378.8 500.7,380.5 497.2,384.6 500.7,388.9 497.2,392.7 500.7,396.7 497.2,400.8 500.4,404.8" fill="none" stroke="#000" stroke-width="1.3" stroke-linejoin="round" stroke-linecap="round"/>
<polygon points="513.8,385.0 511.1,385.0 507.7,388.9 511.1,392.7 507.7,396.7 507.7,397.8 513.8,397.8" fill="#b0b0b0"/><polyline points="509.4,378.8 507.7,380.5 511.1,384.6 507.7,388.9 511.1,392.7 507.7,396.7 511.1,400.8 508.0,404.8" fill="none" stroke="#000" stroke-width="1.3" stroke-linejoin="round" stroke-linecap="round"/>
<polygon points="1032.1,385.0 1036.4,385.0 1039.9,388.9 1036.4,392.7 1039.9,396.7 1039.9,397.8 1032.1,397.8" fill="#b0b0b0"/><polyline points="1038.1,378.8 1039.9,380.5 1036.4,384.6 1039.9,388.9 1036.4,392.7 1039.9,396.7 1036.4,400.8 1039.6,404.8" fill="none" stroke="#000" stroke-width="1.3" stroke-linejoin="round" stroke-linecap="round"/>
<line x1="91.3" y1="311.5" x2="97.5" y2="311.5" stroke="#c8c8c8" stroke-width="1.2"/>
<text x="105.32" y="317.20" font-size="14.60" textLength="99.74" lengthAdjust="spacingAndGlyphs" fill="#777">TRANSCRIPTS</text>
<line x1="213.3" y1="311.5" x2="1035.8" y2="311.5" stroke="#c8c8c8" stroke-width="1.2"/>
<circle cx="1022" cy="311.8" r="9.5" fill="#fff" stroke="#d0d0d0" stroke-width="1.2"/>
<polyline points="1017.3,313.6 1022,308.9 1026.7,313.6" fill="none" stroke="#a8a8a8" stroke-width="2.4"/>
<path d="M180,431.3 H1036 V545.3 H90.5 V431.3 H97.5" fill="none" stroke="#c8c8c8" stroke-width="1.2"/>
<text x="104.04" y="437.40" font-size="14.60" textLength="67.75" lengthAdjust="spacingAndGlyphs" fill="#777">DOMAINS</text>
<circle cx="1021.8" cy="431.7" r="9.5" fill="#fff" stroke="#d0d0d0" stroke-width="1.2"/>
<polyline points="1017.1,430 1021.8,434.7 1026.5,430" fill="none" stroke="#a8a8a8" stroke-width="2.4"/>
<rect x="100.9" y="451.2" width="13.1" height="13.1" fill="#F088AE"/>
<text x="120.58" y="462.50" font-size="14.00" textLength="44.49" lengthAdjust="spacingAndGlyphs" fill="#111">MAM 1</text>
<rect x="100.9" y="476.4" width="13.1" height="13.1" fill="#7E97CF"/>
<text x="120.56" y="487.70" font-size="14.00" textLength="132.47" lengthAdjust="spacingAndGlyphs" fill="#111">LDL-receptor class A</text>
<rect x="100.9" y="501.6" width="13.1" height="13.1" fill="#DE8A57"/>
<text x="120.56" y="512.90" font-size="14.00" textLength="45.18" lengthAdjust="spacingAndGlyphs" fill="#111">MAM 2</text>
<rect x="100.9" y="526.8" width="13.1" height="13.1" fill="#9CCFA4"/>
<text x="120.57" y="538.10" font-size="14.00" textLength="89.90" lengthAdjust="spacingAndGlyphs" fill="#111">Protein kinase</text>
<line x1="683.8" y1="178.6" x2="231.3" y2="255.1" stroke="#41709C" stroke-width="2.2"/><polygon points="223.4,256.4 232.4,249.8 234.1,259.7" fill="#41709C"/>
<line x1="683.6" y1="211.8" x2="592.7" y2="244.9" stroke="#41709C" stroke-width="2.2"/><polygon points="585.2,247.6 592.9,239.5 596.3,248.9" fill="#41709C"/>
<line x1="569.7" y1="341.5" x2="261.2" y2="307.5" stroke="#41709C" stroke-width="2.2"/><polygon points="253.2,306.6 263.7,302.7 262.6,312.7" fill="#41709C"/>
<line x1="740.9" y1="343.2" x2="771.3" y2="309.5" stroke="#41709C" stroke-width="2.2"/><polygon points="776.7,303.6 773.7,314.4 766.3,307.7" fill="#41709C"/>
<line x1="617.9" y1="483.0" x2="277.3" y2="420.8" stroke="#41709C" stroke-width="2.2"/><polygon points="269.4,419.4 280.1,416.3 278.3,426.1" fill="#41709C"/>
<line x1="674.0" y1="446.4" x2="753.9" y2="415.9" stroke="#41709C" stroke-width="2.2"/><polygon points="761.4,413.1 753.8,421.3 750.3,412.0" fill="#41709C"/>
<rect x="683.8" y="151.6" width="239.6" height="70.9" fill="#fff" stroke="#5B87B6" stroke-width="1.5"/><text x="701.35" y="181.70" font-size="17.00" textLength="204.83" lengthAdjust="spacingAndGlyphs" fill="#3A72AE">Reference genes with exon</text><text x="722.30" y="203.80" font-size="17.00" textLength="163.67" lengthAdjust="spacingAndGlyphs" fill="#3A72AE">and domain structure</text>
<rect x="569.7" y="323.7" width="167.9" height="38.1" fill="#fff" stroke="#5B87B6" stroke-width="1.5"/><text x="577.41" y="347.90" font-size="17.00" textLength="152.50" lengthAdjust="spacingAndGlyphs" fill="#3A72AE">Variation breakends</text>
<rect x="617.9" y="446.4" width="191.5" height="56.5" fill="#fff" stroke="#5B87B6" stroke-width="1.5"/><text x="629.06" y="479.70" font-size="17.00" textLength="169.79" lengthAdjust="spacingAndGlyphs" fill="#3A72AE">Resulting fusion genes</text>
</svg></body></html>
